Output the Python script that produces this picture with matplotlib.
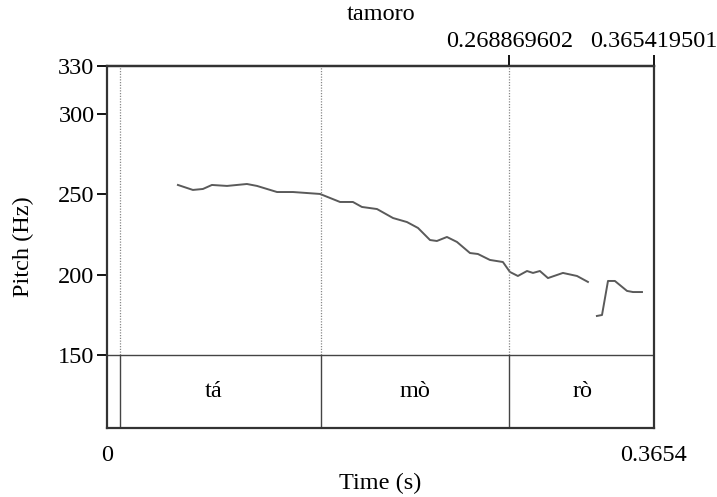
import matplotlib.pyplot as plt

plt.rcParams['font.family'] = ['Liberation Serif', 'DejaVu Serif']

# pitch track (time in s, pitch in Hz), two voiced stretches
t1 = [0.0474, 0.0574, 0.0641, 0.0701, 0.0802, 0.0935, 0.1002, 0.1136, 0.1243,
      0.1423, 0.1557, 0.1643, 0.1703, 0.1804, 0.1911, 0.2004, 0.2078, 0.2158,
      0.2204, 0.2271, 0.2338, 0.2425, 0.2478, 0.2558, 0.2645, 0.2692, 0.2745,
      0.2806, 0.2846, 0.2892, 0.2946, 0.3046, 0.3140, 0.3213]
f1 = [255.9, 252.8, 253.4, 255.9, 255.3, 256.5, 255.3, 251.5, 251.5,
      250.3, 245.3, 245.3, 242.2, 240.9, 235.3, 232.8, 229.1, 221.6,
      221.0, 223.5, 220.4, 213.5, 212.9, 209.2, 207.9, 201.7, 199.2,
      202.3, 201.1, 202.3, 197.9, 201.1, 199.2, 195.5]
t2 = [0.3273, 0.3307, 0.3347, 0.3393, 0.3474, 0.3514, 0.3574]
f2 = [174.3, 174.9, 196.1, 196.1, 189.9, 189.2, 189.2]

bounds = [0.00868, 0.1430, 0.268869602]
syllables = ['tá', 'mò', 'rò']
syl_mid = [0.0710, 0.2055, 0.3180]
t_end = 0.365419501
yticks = [150, 200, 250, 300, 330]
fmin, fmax, ybottom = 150, 330, 104.5

fig = plt.figure(figsize=(7.17, 4.97), dpi=100)
ax = fig.add_axes([0.1492, 0.1388, 0.7629, 0.7284])
fs = 17.5

ax.plot(t1, f1, color='#5a5a5a', lw=1.4)
ax.plot(t2, f2, color='#5a5a5a', lw=1.4)

for b in bounds:
    ax.plot([b, b], [fmin, fmax], color='#888888', lw=0.9, ls=(0, (1, 1.2)))
    ax.plot([b, b], [ybottom, fmin], color='#444444', lw=1.0)
ax.axhline(fmin, color='#444444', lw=1.0)

for s, m in zip(syllables, syl_mid):
    ax.text(m, 127, s, ha='center', va='center', fontsize=fs)

ax.set_xlim(0, t_end)
ax.set_ylim(ybottom, fmax)
ax.set_yticks(yticks)
ax.set_yticklabels([str(v) for v in yticks], fontsize=fs)
ax.set_xticks([0, t_end])
ax.set_xticklabels(['0', '0.3654'], fontsize=fs)
ax.tick_params(axis='x', length=0, pad=12)
ax.tick_params(axis='y', length=7, width=1.3, pad=2)

sec = ax.secondary_xaxis('top')
sec.set_xticks([0.268869602, t_end])
sec.set_xticklabels(['0.268869602', '0.365419501'], fontsize=fs)
sec.tick_params(length=8, width=1.3, pad=2)
sec.spines['top'].set_linewidth(1.6)

for sp in ax.spines.values():
    sp.set_linewidth(1.6)
    sp.set_color('#333333')

ax.set_ylabel('Pitch (Hz)', fontsize=fs, labelpad=17)
ax.set_xlabel('Time (s)', fontsize=fs, labelpad=5)
fig.text(0.531, 0.971, 'tamoro', ha='center', va='center', fontsize=fs)

fig.savefig('out.png', dpi=100)
